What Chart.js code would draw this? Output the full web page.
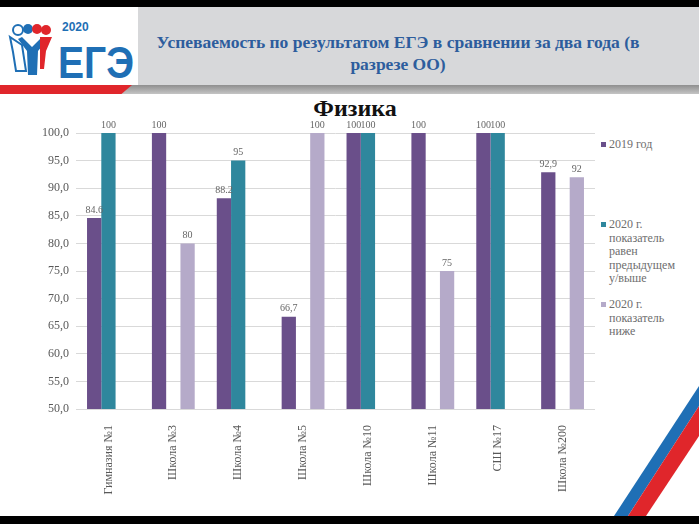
<!DOCTYPE html>
<html>
<head>
<meta charset="utf-8">
<script src="https://cdn.jsdelivr.net/npm/chart.js@4.4.1/dist/chart.umd.min.js"></script>
<style>
  body { margin: 0; width: 699px; height: 524px; position: relative; overflow: hidden; background: #fff; }
  .serif { font-family: 'Liberation Serif', 'Times New Roman', 'DejaVu Serif', serif; }
  .topbar { position: absolute; left: 0; top: 0; width: 699px; height: 7px; background: #000; }
  .bottombar { position: absolute; left: 0; top: 516px; width: 699px; height: 8px; background: #000; }
  .header { position: absolute; left: 138px; top: 7px; width: 561px; height: 78px; background: #d7d8da; }
  .stripe-gray { position: absolute; left: 0; top: 85px; width: 699px; height: 9px; background: linear-gradient(#8f8f8f, #c4c4c4); }
  .stripe-red { position: absolute; left: 0; top: 85px; width: 132px; height: 9px; background: #e0262b; clip-path: polygon(0 0, 100% 0, 92% 100%, 0 100%); }
  .title { position: absolute; left: 140px; top: 31px; width: 516px; text-align: center; color: #2d5d9d; font-weight: bold; font-size: 17.5px; line-height: 22px; }
  .subject { position: absolute; left: 255px; top: 95px; width: 200px; text-align: center; font-weight: bold; font-size: 24px; color: #111; }
  #wrap { position: absolute; left: 0; top: 92px; width: 600px; height: 424px; }
  .legend { position: absolute; left: 601px; top: 92px; width: 98px; font-size: 12px; color: #6e6e6e; line-height: 13.5px; }
  .legend .item { position: absolute; left: 0; padding-left: 8px; white-space: nowrap; }
  .legend .box { position: absolute; left: 0; top: 4px; width: 5px; height: 5px; }
  .logo { position: absolute; left: 0; top: 7px; width: 138px; height: 78px; }
</style>
</head>
<body>
<div class="topbar"></div>
<div class="header"></div>
<svg class="logo" viewBox="0 0 138 78">
  <circle cx="18" cy="23" r="5" fill="#fff" stroke="#1f6fb5" stroke-width="2"/>
  <circle cx="28" cy="22" r="5" fill="#1f6fb5"/>
  <circle cx="37" cy="22" r="5" fill="#e0262b"/>
  <circle cx="46" cy="23" r="5" fill="#e0262b"/>
  <path d="M10 30 L22 38 L26 64 L16 64 L13 45 Z" fill="#fff" stroke="#1f6fb5" stroke-width="2"/>
  <path d="M22 30 L32 40 L42 30 L48 32 L38 44 L37 68 L28 68 L27 44 L18 32 Z" fill="#1f6fb5"/>
  <path d="M40 30 L52 30 L46 44 L44 62 L40 62 Z" fill="#e0262b"/>
  <text x="62" y="24" font-family="Liberation Sans Narrow, Liberation Sans, sans-serif" font-weight="bold" font-size="12" fill="#1f6fb5">2020</text>
  <text x="58" y="71" font-family="Liberation Sans Narrow, Liberation Sans, sans-serif" font-weight="bold" font-size="44" fill="#1f6fb5" textLength="76" lengthAdjust="spacingAndGlyphs">ЕГЭ</text>
</svg>
<div class="stripe-gray"></div>
<div class="stripe-red"></div>
<div class="title serif">Успеваемость по результатом ЕГЭ в сравнении за два года (в разрезе ОО)</div>
<div class="subject serif">Физика</div>
<div id="wrap"><canvas id="chart"></canvas></div>
<div class="legend serif" id="legend"></div>
<svg style="position:absolute;left:600px;top:380px" width="99" height="136" viewBox="0 0 99 136">
  <polygon points="14,136 99,6 99,26 28,136" fill="#1f6fb5"/>
  <polygon points="28,136 99,26 99,56 46,136" fill="#e0262b"/>
</svg>
<div class="bottombar"></div>
<script>
const schools = ['Гимназия №1', 'Школа №3', 'Школа №4', 'Школа №5', 'Школа №10', 'Школа №11', 'СШ №17', 'Школа №200'];
const y2019 = [84.6, 100, 88.2, 66.7, 100, 100, 100, 92.9];
const y2020up = [100, null, 95, null, 100, null, 100, null];
const y2020down = [null, 80, null, 100, null, 75, null, 92];
const text2019 = ['84.6', '100', '88.2', '66,7', '100', '100', '100', '92,9'];
const seriesNames = [
  ['2019 год'],
  ['2020 г.', 'показатель', 'равен', 'предыдущем', 'у/выше'],
  ['2020 г.', 'показатель', 'ниже'],
];
const colors = ['#6a4f8a', '#2f879d', '#b5aac9'];
const legendTops = [46, 126, 206];
const yMin = 50, yMax = 100, yStep = 5;
const serif = "'Liberation Serif', 'Times New Roman', serif";

// легенда
const legend = document.getElementById('legend');
seriesNames.forEach((lines, i) => {
  const item = document.createElement('div');
  item.className = 'item';
  item.style.top = legendTops[i] + 'px';
  item.innerHTML = '<span class="box" style="background:' + colors[i] + '"></span>' + lines.join('<br>');
  legend.appendChild(item);
});

// подписи над столбцами
const valueLabels = {
  id: 'valueLabels',
  afterDatasetsDraw(chart) {
    const ctx = chart.ctx;
    ctx.save();
    ctx.font = '10px ' + serif;
    ctx.fillStyle = '#666';
    ctx.textAlign = 'center';
    ctx.textBaseline = 'bottom';
    chart.data.datasets.forEach((ds, i) => {
      chart.getDatasetMeta(i).data.forEach((bar, j) => {
        const v = ds.data[j];
        if (v == null) return;
        const t = i === 0 ? text2019[j] : String(v);
        ctx.fillText(t, bar.x, bar.y - 3);
      });
    });
    ctx.restore();
  },
};

const ctx = document.getElementById('chart');
new Chart(ctx, {
  type: 'bar',
  data: {
    labels: schools,
    datasets: [
      { label: seriesNames[0].join(' '), data: y2019, backgroundColor: colors[0] },
      { label: seriesNames[1].join(' '), data: y2020up, backgroundColor: colors[1] },
      { label: seriesNames[2].join(' '), data: y2020down, backgroundColor: colors[2] },
    ],
  },
  options: {
    responsive: true,
    maintainAspectRatio: false,
    animation: false,
    layout: { padding: { top: 41, right: 5, left: 2, bottom: 0 } },
    plugins: { legend: { display: false }, tooltip: { enabled: false } },
    datasets: { bar: { barPercentage: 1, categoryPercentage: 0.66 } },
    scales: {
      x: {
        grid: { display: false },
        border: { display: false },
        ticks: { minRotation: 90, maxRotation: 90, autoSkip: false, padding: 8, color: '#595959', font: { family: serif, size: 12 } },
        afterFit(scale) { scale.height = 107; },
      },
      y: {
        min: yMin,
        max: yMax,
        grid: { color: '#d9d9d9', drawTicks: false },
        border: { display: false },
        ticks: {
          stepSize: yStep,
          padding: 7,
          color: '#595959',
          font: { family: serif, size: 12 },
          callback: (v) => v.toFixed(1).replace('.', ','),
        },
        afterFit(scale) { scale.width = 74; },
      },
    },
  },
  plugins: [valueLabels],
});
</script>
</body>
</html>
